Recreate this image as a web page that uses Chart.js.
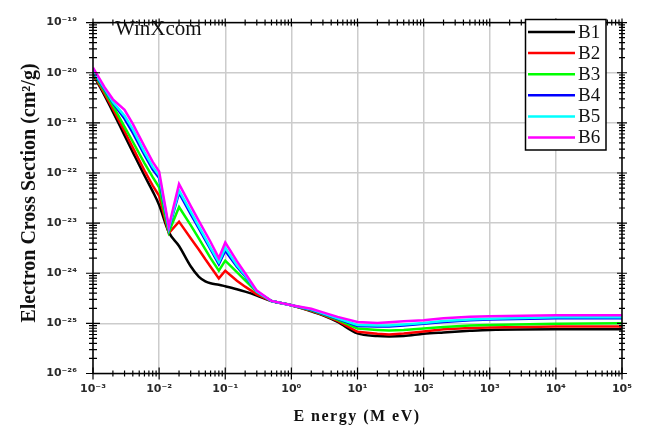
<!DOCTYPE html>
<html>
<head>
<meta charset="utf-8">
<title>Electron cross section</title>
<script src="https://cdn.jsdelivr.net/npm/chart.js@4.4.1/dist/chart.umd.min.js"></script>
<style>
  html, body { margin: 0; padding: 0; background: #fff; }
  #wrap { width: 645px; height: 430px; }
</style>
</head>
<body>
<div id="wrap"><canvas id="xsChart" width="645" height="430"></canvas></div>
<script>
// Photon energies (MeV)
const energies = [0.001, 0.0015, 0.002, 0.003, 0.004, 0.006, 0.008, 0.01, 0.014, 0.02,
  0.03, 0.04, 0.05, 0.06, 0.08, 0.1, 0.15, 0.2, 0.3, 0.5,
  1, 2, 3, 5, 10, 20, 30, 50, 100, 200,
  500, 1000, 10000, 100000];

// Electronic cross sections (cm^2/g) for each sample
const b1 = [9.3e-21, 3.5e-21, 1.66e-21, 5.6e-22, 2.6e-22, 8.9e-23, 4.3e-23, 2.3e-23, 6.6e-24, 3.5e-24,
  1.38e-24, 8.5e-25, 6.9e-25, 6.3e-25, 5.9e-25, 5.5e-25, 4.8e-25, 4.3e-25, 3.6e-25, 2.8e-25,
  2.3e-25, 1.74e-25, 1.45e-25, 1.07e-25, 6.3e-26, 5.6e-26, 5.5e-26, 5.6e-26, 6.2e-26, 6.6e-26,
  7.1e-26, 7.4e-26, 7.6e-26, 7.6e-26];
const b2 = [9.8e-21, 3.8e-21, 1.9e-21, 6.8e-22, 3.2e-22, 1.12e-22, 5.6e-23, 3.5e-23, 6.3e-24, 1.07e-23,
  5.0e-24, 2.95e-24, 1.9e-24, 1.35e-24, 7.9e-25, 1.12e-24, 7.1e-25, 5.4e-25, 3.8e-25, 2.8e-25,
  2.3e-25, 1.78e-25, 1.48e-25, 1.12e-25, 6.8e-26, 6.2e-26, 6.0e-26, 6.3e-26, 6.9e-26, 7.6e-26,
  8.1e-26, 8.3e-26, 8.7e-26, 8.7e-26];
const b3 = [1.02e-20, 4.2e-21, 2.2e-21, 8.3e-22, 4.2e-22, 1.58e-22, 8.3e-23, 5.2e-23, 6.6e-24, 2.1e-23,
  9.1e-24, 4.9e-24, 3.0e-24, 2.0e-24, 1.12e-24, 1.78e-24, 1.05e-24, 7.2e-25, 4.2e-25, 2.8e-25,
  2.3e-25, 1.82e-25, 1.51e-25, 1.17e-25, 7.9e-26, 7.4e-26, 7.2e-26, 7.4e-26, 7.9e-26, 8.5e-26,
  9.1e-26, 9.3e-26, 9.8e-26, 1.0e-25];
const b4 = [1.07e-20, 4.6e-21, 2.5e-21, 1.2e-21, 6.3e-22, 2.3e-22, 1.17e-22, 7.9e-23, 7.6e-24, 4.0e-23,
  1.51e-23, 7.8e-24, 4.6e-24, 3.0e-24, 1.51e-24, 2.8e-24, 1.35e-24, 8.7e-25, 4.3e-25, 2.8e-25,
  2.3e-25, 1.86e-25, 1.55e-25, 1.23e-25, 8.9e-26, 8.7e-26, 8.7e-26, 9.1e-26, 9.8e-26, 1.07e-25,
  1.15e-25, 1.2e-25, 1.26e-25, 1.26e-25];
const b5 = [1.12e-20, 4.8e-21, 2.6e-21, 1.38e-21, 7.4e-22, 2.6e-22, 1.32e-22, 8.9e-23, 7.9e-24, 4.5e-23,
  1.7e-23, 8.5e-24, 5.0e-24, 3.2e-24, 1.66e-24, 3.2e-24, 1.45e-24, 9.1e-25, 4.3e-25, 2.8e-25,
  2.3e-25, 1.9e-25, 1.58e-25, 1.26e-25, 9.3e-26, 9.1e-26, 9.1e-26, 9.5e-26, 1.02e-25, 1.12e-25,
  1.2e-25, 1.23e-25, 1.32e-25, 1.32e-25];
const b6 = [1.26e-20, 5.1e-21, 2.95e-21, 1.82e-21, 9.5e-22, 3.4e-22, 1.66e-22, 1.07e-22, 8.5e-24, 6.0e-23,
  2.2e-23, 1.1e-23, 6.5e-24, 4.2e-24, 2.0e-24, 4.1e-24, 1.74e-24, 1.0e-24, 4.5e-25, 2.8e-25,
  2.3e-25, 1.95e-25, 1.66e-25, 1.35e-25, 1.07e-25, 1.02e-25, 1.05e-25, 1.1e-25, 1.15e-25, 1.26e-25,
  1.35e-25, 1.38e-25, 1.45e-25, 1.45e-25];

const seriesNames = ['B1', 'B2', 'B3', 'B4', 'B5', 'B6'];
const seriesValues = [b1, b2, b3, b4, b5, b6];
const seriesColors = ['#000000', '#ff0000', '#00ff00', '#0000ff', '#00ffff', '#ff00ff'];

// Decade ticks (powers of ten)
const xTickPowers = [-3, -2, -1, 0, 1, 2, 3, 4, 5];
const yTickPowers = [-26, -25, -24, -23, -22, -21, -20, -19];

const SUP = { '-': '\u207B', '0': '\u2070', '1': '\u00B9', '2': '\u00B2', '3': '\u00B3',
  '4': '\u2074', '5': '\u2075', '6': '\u2076', '7': '\u2077', '8': '\u2078', '9': '\u2079' };

function powerLabel(value) {
  const p = Math.round(Math.log10(value));
  return '10' + String(p).split('').map(c => SUP[c]).join('');
}

const tickFont = { family: "'DejaVu Sans', sans-serif", size: 11, weight: 'bold' };

// Frame, crossing tick marks, titles and legend box
const framePlugin = {
  id: 'frame',
  afterDraw(chart) {
    const ctx = chart.ctx;
    const area = chart.chartArea;
    const xs = chart.scales.x;
    const ys = chart.scales.y;

    ctx.save();
    ctx.strokeStyle = '#000';
    ctx.lineWidth = 1.5;
    ctx.strokeRect(area.left, area.top, area.right - area.left, area.bottom - area.top);

    ctx.lineWidth = 1.2;
    ctx.beginPath();
    xTickPowers.forEach(p => {
      for (let m = 1; m <= 9; m++) {
        const v = m * Math.pow(10, p);
        if (v > xs.max * 1.0001) break;
        const px = xs.getPixelForValue(v);
        const big = m === 1;
        ctx.moveTo(px, area.bottom - (big ? 6 : 3));
        ctx.lineTo(px, area.bottom + (big ? 6 : 3));
        ctx.moveTo(px, area.top - (big ? 4 : 3));
        ctx.lineTo(px, area.top + (big ? 4 : 3));
      }
    });
    yTickPowers.forEach(p => {
      for (let m = 1; m <= 9; m++) {
        const v = m * Math.pow(10, p);
        if (v > ys.max * 1.0001) break;
        const py = ys.getPixelForValue(v);
        const big = m === 1;
        ctx.moveTo(area.left - (big ? 7 : 4), py);
        ctx.lineTo(area.left + (big ? 7 : 4), py);
        ctx.moveTo(area.right - (big ? 5 : 3), py);
        ctx.lineTo(area.right + (big ? 5 : 3), py);
      }
    });
    ctx.stroke();

    // axis titles
    ctx.fillStyle = '#111';
    ctx.font = "bold 20px 'Liberation Serif', serif";
    ctx.textAlign = 'center';
    ctx.textBaseline = 'alphabetic';
    ctx.save();
    ctx.translate(35, 193);
    ctx.rotate(-Math.PI / 2);
    ctx.fillText('Electron Cross Section (cm\u00B2/g)', 0, 0);
    ctx.restore();

    ctx.font = "bold 16px 'Liberation Serif', serif";
    ctx.letterSpacing = '1.5px';
    ctx.fillText('E nergy (M eV)', 357, 421);
    ctx.letterSpacing = '0px';

    // program name
    ctx.textAlign = 'left';
    ctx.font = "21px 'Liberation Serif', serif";
    ctx.fillText('WinXcom', 115, 35);

    // legend
    const lx = 525.5, ly = 19.5, lw = 80.5, lh = 130.5;
    ctx.fillStyle = '#fff';
    ctx.fillRect(lx, ly, lw, lh);
    ctx.lineWidth = 1.5;
    ctx.strokeRect(lx, ly, lw, lh);
    ctx.font = "19px 'Liberation Serif', serif";
    ctx.textBaseline = 'middle';
    seriesNames.forEach((name, i) => {
      const y = 32 + i * 21.1;
      ctx.strokeStyle = seriesColors[i];
      ctx.lineWidth = 2.5;
      ctx.beginPath();
      ctx.moveTo(528, y);
      ctx.lineTo(575, y);
      ctx.stroke();
      ctx.fillStyle = '#111';
      ctx.fillText(name, 578, y + 1);
    });
    ctx.restore();
  }
};

const datasets = seriesNames.map((name, i) => ({
  label: name,
  data: energies.map((e, k) => ({ x: e, y: seriesValues[i][k] })),
  borderColor: seriesColors[i],
  backgroundColor: seriesColors[i],
  borderWidth: 2.5,
  pointRadius: 0,
  // B1 has no edge jumps, so it can be drawn as a smooth curve
  cubicInterpolationMode: i === 0 ? 'monotone' : 'default',
  tension: 0,
  fill: false,
  order: seriesNames.length - i
}));

new Chart(document.getElementById('xsChart'), {
  type: 'line',
  data: { datasets: datasets },
  options: {
    responsive: false,
    animation: false,
    devicePixelRatio: 1,
    layout: { padding: { top: 12.5, right: 23, left: 0, bottom: 0 } },
    plugins: {
      legend: { display: false },
      tooltip: { enabled: false }
    },
    scales: {
      x: {
        type: 'logarithmic',
        min: 1e-3,
        max: 1e5,
        afterBuildTicks: scale => {
          scale.ticks = xTickPowers.map(p => ({ value: Math.pow(10, p) }));
        },
        afterFit: scale => { scale.height = 56.5; },
        ticks: {
          callback: v => powerLabel(v),
          autoSkip: false,
          maxRotation: 0,
          padding: 9,
          color: '#2a2a2a',
          font: tickFont
        },
        grid: { color: '#cccccc', lineWidth: 1.5, drawTicks: false },
        border: { display: false }
      },
      y: {
        type: 'logarithmic',
        min: 1e-26,
        max: 1e-19,
        afterBuildTicks: scale => {
          scale.ticks = yTickPowers.map(p => ({ value: Math.pow(10, p) }));
        },
        afterFit: scale => { scale.width = 93; },
        ticks: {
          callback: v => powerLabel(v),
          autoSkip: false,
          padding: 16,
          color: '#2a2a2a',
          font: tickFont
        },
        grid: { color: '#cccccc', lineWidth: 1.5, drawTicks: false },
        border: { display: false }
      }
    }
  },
  plugins: [framePlugin]
});
</script>
</body>
</html>
